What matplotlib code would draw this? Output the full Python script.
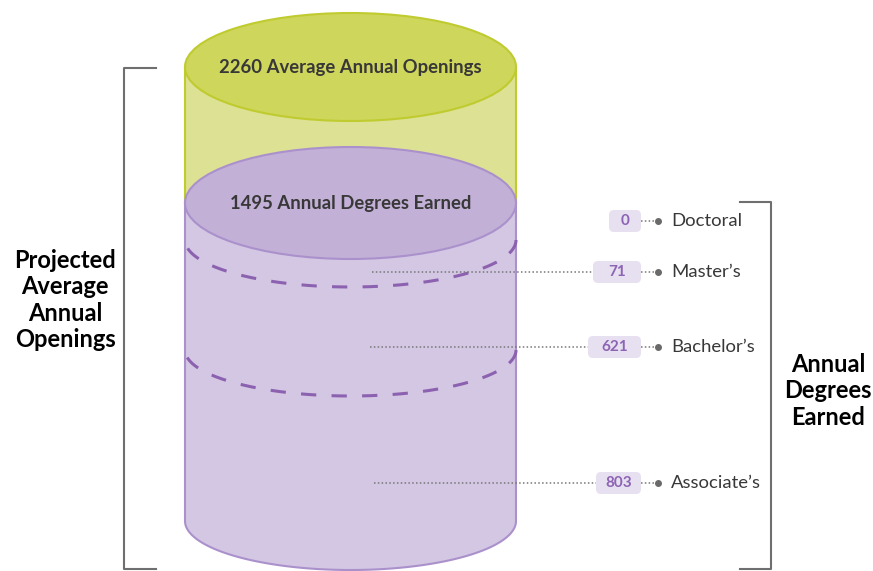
import numpy as np
import matplotlib
matplotlib.use("Agg")
import matplotlib.pyplot as plt
from matplotlib.patches import Ellipse, Polygon, FancyBboxPatch

# ---- data ----
openings = 2260
degrees_total = 1495
categories = ["Doctoral", "Master\u2019s", "Bachelor\u2019s", "Associate\u2019s"]
values = [0, 71, 621, 803]

# ---- layout (pixel space) ----
W, H = 873, 571
cx, half_w = 350.5, 165.5
top_y, top_ry = 67, 54
purple_y, purple_ry = 203, 56
bottom_y, bottom_ry = 521, 49
dash_y = [240, 350]
dash_ry = [47, 46]
label_y = [221, 272, 347, 483]
leader_x0 = [None, 372, 370, 374]
pill_x0 = [609, 593, 588, 596]
pill_x1 = 641
dot_x = 658
text_x = 671

plt.rcParams['font.family'] = ['Lato', 'DejaVu Sans']

fig = plt.figure(figsize=(W / 100, H / 100), dpi=100)
ax = fig.add_axes([0, 0, 1, 1])
ax.set_xlim(0, W)
ax.set_ylim(H, 0)
ax.axis('off')

green_top = '#cfd65c'
green_body = '#dde193'
green_edge = '#bfcb2f'
purple_top = '#c2b0d7'
purple_body = '#d3c7e3'
purple_edge = '#ab91cc'
dash_col = '#8c62b0'
gray = '#6f6f6f'
txt = '#383838'

xl, xr = cx - half_w, cx + half_w

# green body
ax.add_patch(Polygon([[xl, top_y], [xr, top_y], [xr, purple_y], [xl, purple_y]],
                     closed=True, facecolor=green_body, edgecolor='none', zorder=1))
ax.plot([xl, xl], [top_y, purple_y], color=green_edge, lw=1.5, zorder=2)
ax.plot([xr, xr], [top_y, purple_y], color=green_edge, lw=1.5, zorder=2)
ax.add_patch(Ellipse((cx, top_y), 2 * half_w, 2 * top_ry, facecolor=green_top,
                     edgecolor=green_edge, lw=1.5, zorder=3))

# purple body
t = np.linspace(0, np.pi, 200)
arc_x = cx + half_w * np.cos(t)
arc_y = bottom_y + bottom_ry * np.sin(t)
body = [[xl, purple_y]] + [[xr, purple_y]] + list(zip(arc_x, arc_y))
ax.add_patch(Polygon(body, closed=True, facecolor=purple_body, edgecolor=purple_edge,
                     lw=1.5, zorder=4))
ax.add_patch(Ellipse((cx, purple_y), 2 * half_w, 2 * purple_ry, facecolor=purple_top,
                     edgecolor=purple_edge, lw=1.5, zorder=5))

# dashed section boundaries
for dy, dry in zip(dash_y, dash_ry):
    ax.plot(cx + half_w * np.cos(t), dy + dry * np.sin(t), color=dash_col, lw=2.2,
            dashes=(5, 5), zorder=6)

ax.text(cx, top_y, f"{openings} Average Annual Openings", ha='center', va='center',
        fontsize=13.3, fontweight='bold', color=txt, zorder=7)
ax.text(cx, purple_y, f"{degrees_total} Annual Degrees Earned", ha='center', va='center',
        fontsize=13.3, fontweight='bold', color=txt, zorder=7)

# labels
for cat, val, y, lx, px in zip(categories, values, label_y, leader_x0, pill_x0):
    if lx is not None:
        ax.plot([lx, px], [y, y], color='#777777', lw=1.1, ls=(0, (1, 1.5)), zorder=7)
    ax.plot([pill_x1, dot_x], [y, y], color='#777777', lw=1.1, ls=(0, (1, 1.5)), zorder=7)
    ax.plot([dot_x], [y], 'o', color='#6a6a6a', ms=4, zorder=8)
    ax.add_patch(FancyBboxPatch((px + 3, y - 8), pill_x1 - px - 6, 16,
                                boxstyle='round,pad=3,rounding_size=5',
                                facecolor='#e7e0f1', edgecolor='none', zorder=8))
    ax.text((px + pill_x1) / 2, y, str(val), ha='center', va='center', fontsize=11,
            fontweight='bold', color='#8d63b3', zorder=9)
    ax.text(text_x, y, cat, ha='left', va='center', fontsize=13.3, color=txt, zorder=9)

# left bracket
ax.plot([156, 124, 124, 156], [68, 68, 569, 569], color=gray, lw=1.5, zorder=2)
ax.text(65, 300, "Projected\nAverage\nAnnual\nOpenings", ha='center', va='center',
        fontsize=17, fontweight='bold', color='black', linespacing=1.19)

# right bracket
ax.plot([740, 771, 771, 740], [202, 202, 569, 569], color=gray, lw=1.5, zorder=2)
ax.text(828, 391, "Annual\nDegrees\nEarned", ha='center', va='center',
        fontsize=17, fontweight='bold', color='black', linespacing=1.19)

fig.savefig('out.png', dpi=100)
